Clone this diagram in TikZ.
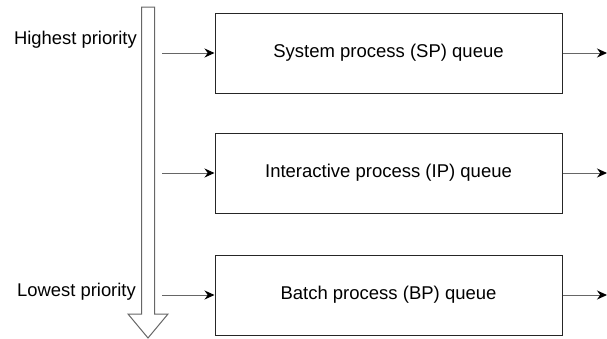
\documentclass[tikz,border=0pt]{standalone}
\usepackage{fontspec}
\setmainfont{Liberation Sans}
\usetikzlibrary{arrows.meta}

\begin{document}
\begin{tikzpicture}[x=1pt,y=-1pt]
\tikzset{queuebox/.style={draw=black!85,line width=1pt,minimum width=347pt,minimum height=80pt,inner sep=0pt,font=\fontsize{18.5}{21}\selectfont},
  prio/.style={anchor=east,inner sep=0pt,font=\fontsize{18.4}{21}\selectfont},
  feed/.style={draw=black!60,line width=1pt,-{Stealth[length=10pt,width=9pt,black]}}}
\useasboundingbox (0,0) rectangle (607,338);
% priority arrow
\draw[black!60,line width=1pt,fill=white] (141.5,7) -- (154.5,7) -- (154.5,314) -- (168,314)
  -- (148,338) -- (128,314) -- (141.5,314) -- cycle;
\node[prio] (high) at (137,40) {Highest priority};
\node[prio] (low) at (136,292) {Lowest priority};
% queues
\node[queuebox] (sp) at (388.5,53) {System process (SP) queue};
\node[queuebox] (ip) at (388.5,173) {Interactive process (IP) queue};
\node[queuebox] (bp) at (388.5,295) {Batch process (BP) queue};
\coordinate (spin) at (162,53);
\coordinate (ipin) at (162,173);
\coordinate (bpin) at (162,295);
\coordinate (spout) at (607,53);
\coordinate (ipout) at (607,173);
\coordinate (bpout) at (607,295);
\draw[feed] (spin) -- (sp);
\draw[feed] (ipin) -- (ip);
\draw[feed] (bpin) -- (bp);
\draw[feed] (sp) -- (spout);
\draw[feed] (ip) -- (ipout);
\draw[feed] (bp) -- (bpout);
\end{tikzpicture}
\end{document}
